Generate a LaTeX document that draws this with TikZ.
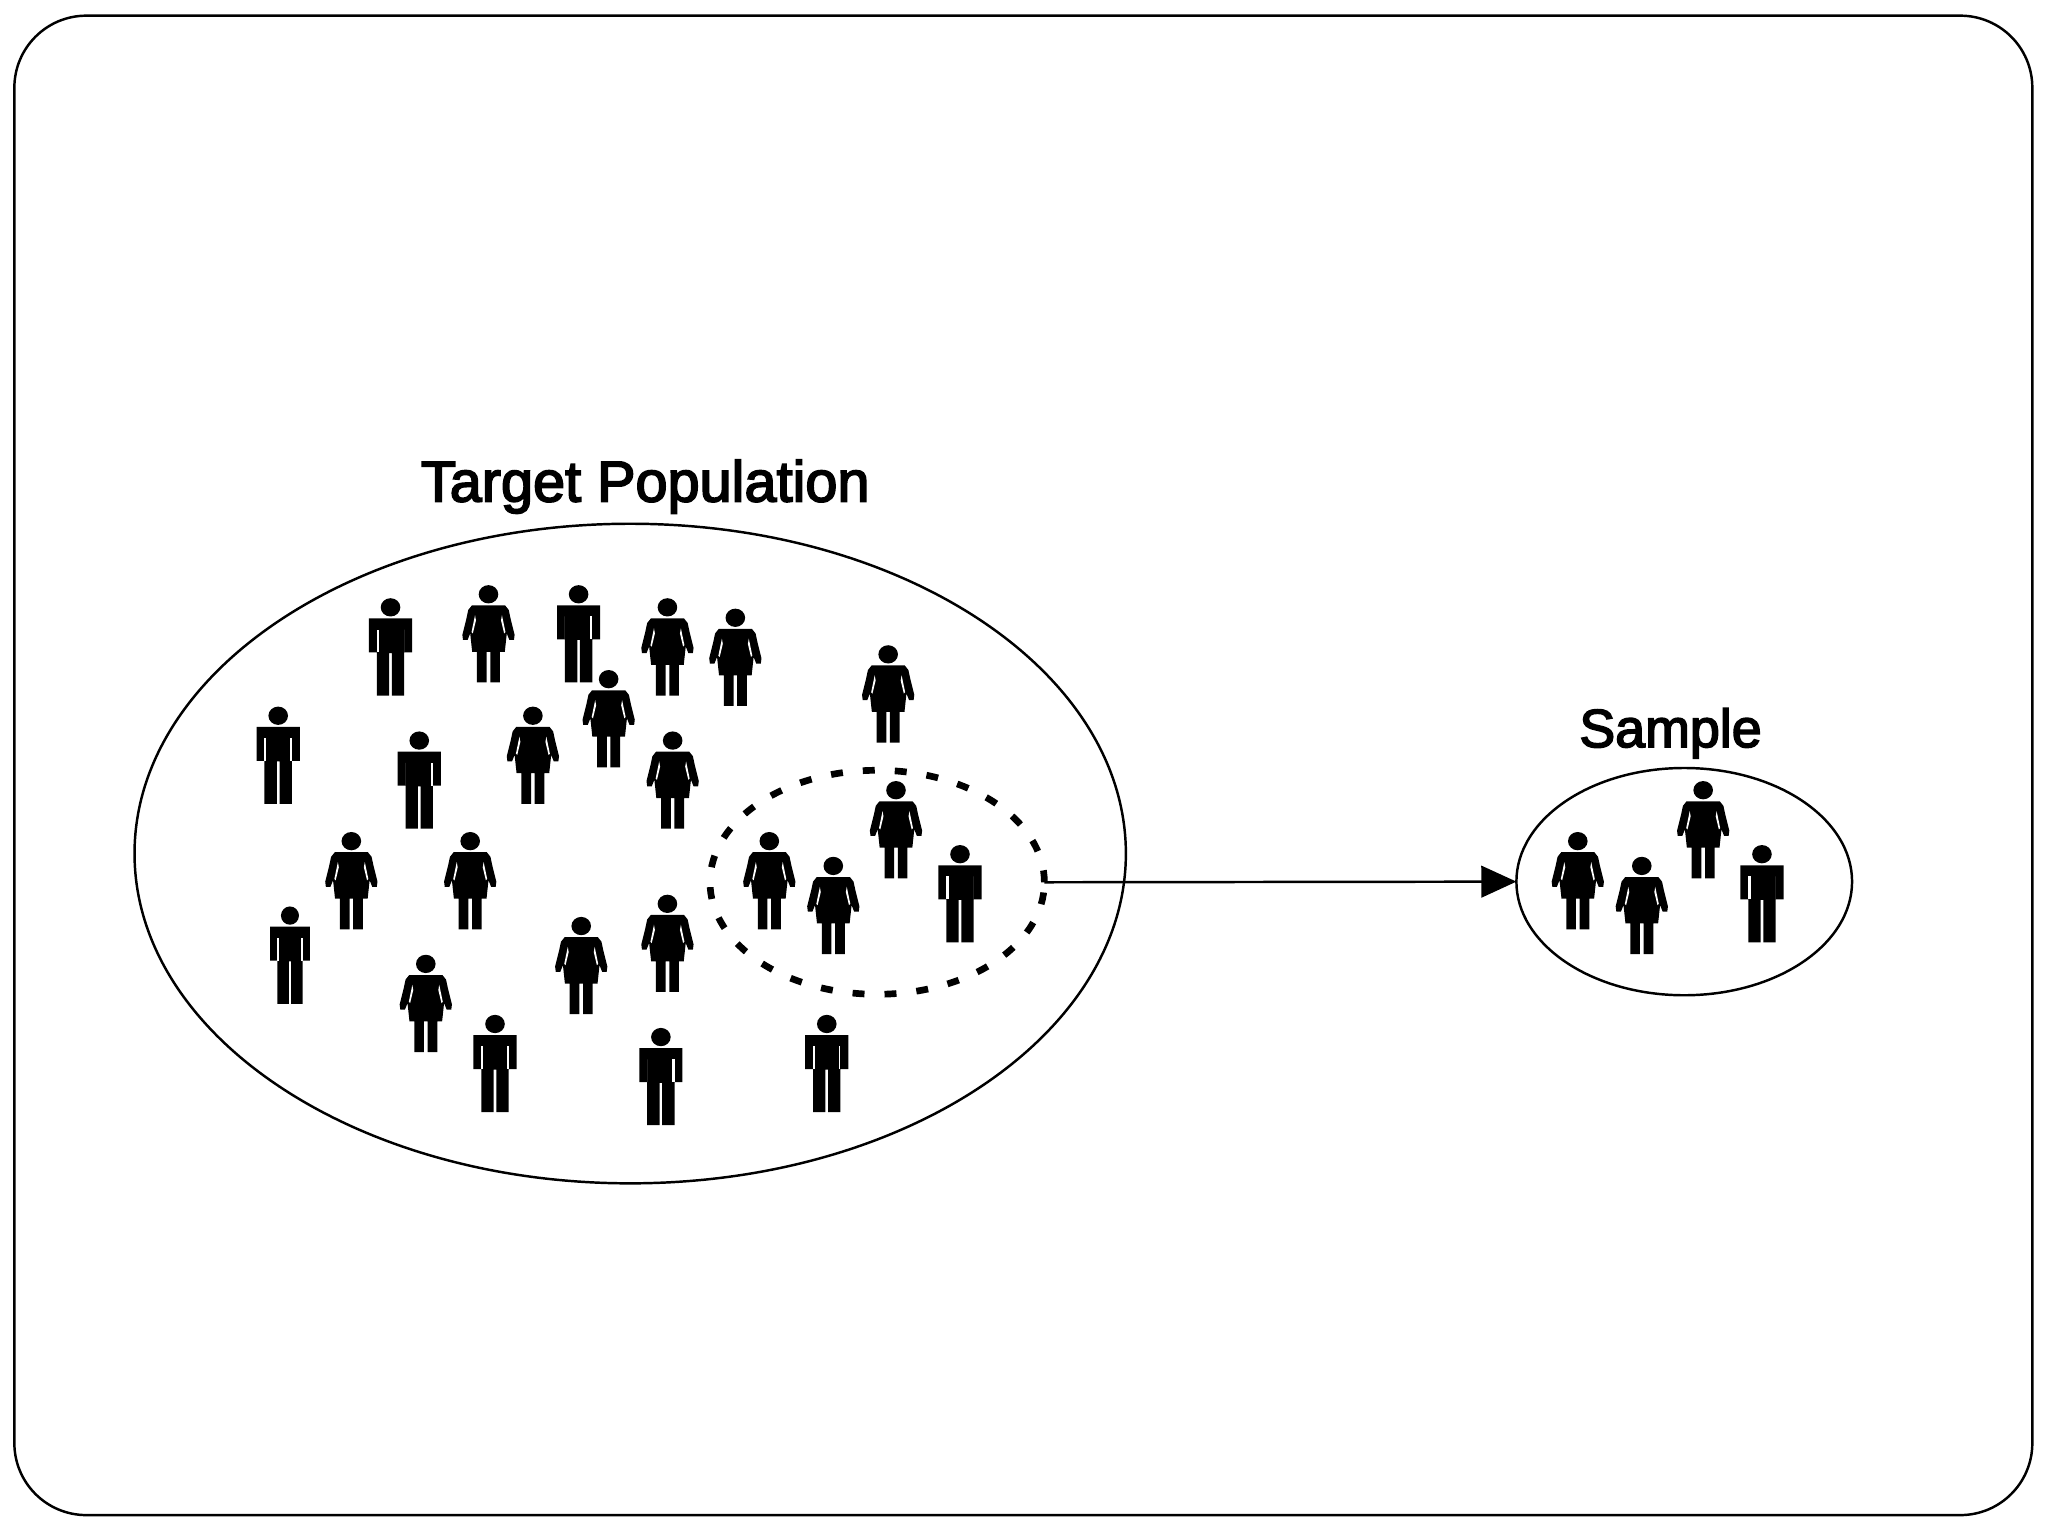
\documentclass[tikz,border=0pt]{standalone}
\usepackage{fontspec}
\setmainfont[FakeBold=3]{Liberation Sans}
\usetikzlibrary{shapes.geometric,arrows.meta}
\newcommand\manfig[2]{%
  \fill (0,7) ellipse[x radius=7.5,y radius=7];
  \fill (-16.5,15.5)--(16.5,15.5)--(16.5,41.5)--(10.5,41.5)--(10.5,74.5)--(1,74.5)--(1,42)--(-1,42)--(-1,74.5)--(-10.5,74.5)--(-10.5,41.5)--(-16.5,41.5)--cycle;
  \fill[white] (-10.5,24) rectangle ++(#1,17.5);
  \fill[white] (10.5,24) rectangle ++(-#2,17.5);
}
\tikzset{
  x=0.013061cm,y=-0.013061cm,
  ring/.style={draw=black,ellipse,line width=0.7pt,inner sep=0pt,outer sep=0pt},
  dashed ring/.style={draw=black,ellipse,line width=1.9pt,dash pattern=on 3.4pt off 5.7pt,inner sep=0pt,outer sep=0pt},
  label text/.style={inner sep=0pt,text=black,anchor=base},
  manL/.pic={\manfig{1.8}{0}},
  manR/.pic={\manfig{0}{1.8}},
  manB/.pic={\manfig{1.5}{1.5}},
  woman/.pic={
    \fill (0,7) ellipse[x radius=7.5,y radius=7];
    \fill (-12.7,15.5)--(12.7,15.5)--(15.5,19)--(17,26)--(20,38)--(19.5,42)--(16,42)--(14,37)--(12.5,51)--(8.8,51)--(8.8,74.5)--(1.4,74.5)--(1.4,51)--(-1.4,51)--(-1.4,74.5)--(-8.8,74.5)--(-8.8,51)--(-12.5,51)--(-14,37)--(-16,42)--(-19.5,42)--(-20,38)--(-17,26)--(-15.5,19)--cycle;
    \fill[white] (10.3,23)--(13,36)--(12,37)--(9.6,27)--cycle;
    \fill[white] (-10.3,23)--(-13,36)--(-12,37)--(-9.6,27)--cycle;
  },
}
\begin{document}
\begin{tikzpicture}
\useasboundingbox (0,0) rectangle (1568,1176);
\draw[line width=0.7pt,rounded corners=0.72cm] (11,12) rectangle (1556,1160);
\node[ring,minimum width=759*0.013061cm,minimum height=505*0.013061cm] (population) at (482.5,653.5) {};
\node[dashed ring,minimum width=256*0.013061cm,minimum height=171.5*0.013061cm] (subset) at (671.6,675.5) {};
\node[ring,minimum width=257*0.013061cm,minimum height=174*0.013061cm] (sample) at (1289.5,675) {};
\node[label text,font=\fontsize{16.4}{19}\selectfont] (poplabel) at (494,384) {Target Population};
\node[label text,font=\fontsize{15.3}{18}\selectfont] (samplabel) at (1279,572) {Sample};
\draw[line width=0.7pt,-{Triangle[length=10pt,width=9pt]}] (subset.east) -- (sample.west);
\foreach \px/\py in {299/458,1349/647,735/647}
  \pic at (\px,\py) {manL};
\foreach \px/\py in {443/448,321/560,506/787}
  \pic at (\px,\py) {manR};
\foreach \px/\py in {213/541,379/777,633/777}
  \pic at (\px,\py) {manB};
\pic[xscale=.92] at (222,694) {manB};
\foreach \px/\py in {374/448,511/458,563/466,680/494,466/513,408/541,515/560,686/598,589/637,638/656,269/637,360/637,511/685,445/702,326/731,1208/637,1257/656,1304/598}
  \pic at (\px,\py) {woman};
\end{tikzpicture}
\end{document}
